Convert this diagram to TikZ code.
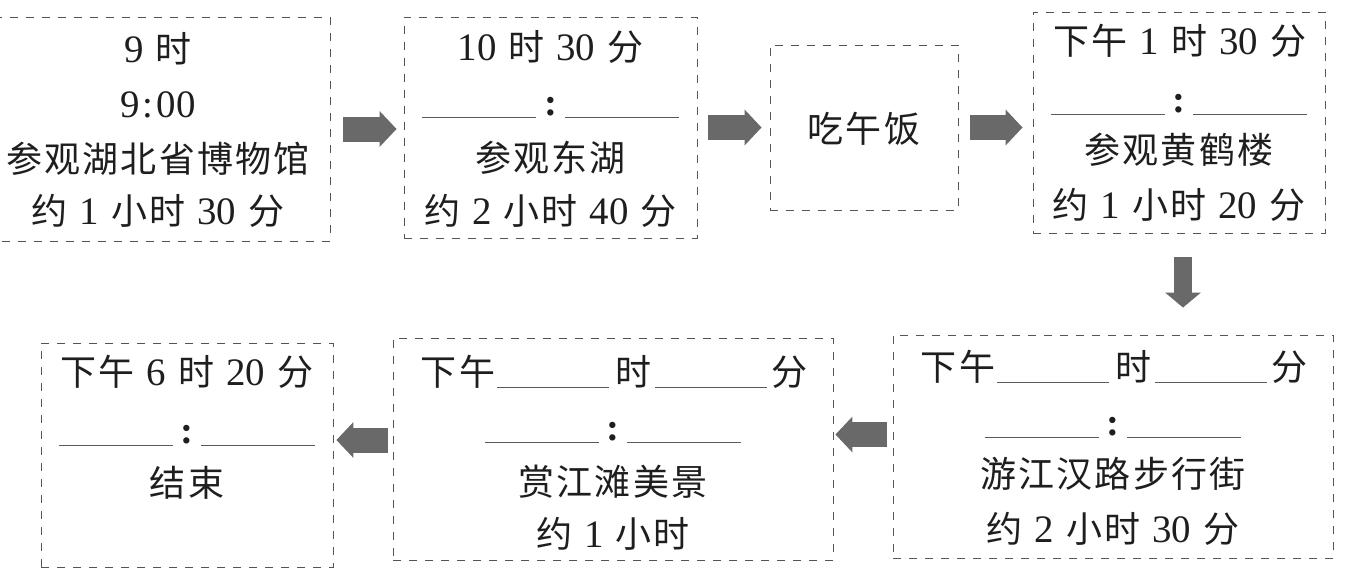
\documentclass[tikz,border=0pt]{standalone}
\usepackage{fontspec}
\setmainfont{Liberation Serif}[Scale=1.08]
\newfontfamily\cjk{Noto Sans CJK SC}[LetterSpace=6]
\usetikzlibrary{arrows.meta}
\definecolor{dashc}{RGB}{85,85,85}
\definecolor{arrowc}{RGB}{105,105,105}
\definecolor{ulc}{RGB}{90,90,90}
\definecolor{txtc}{RGB}{30,30,30}
\newcommand\zh[1]{{\cjk #1}}
\newcommand\gp{\hspace{12pt}}
\newcommand\blankline[1][114pt]{\textcolor{ulc}{\rule[-3pt]{#1}{0.9pt}}}
\newcommand\colonrow{\blankline\hspace{8pt}\textbf{:}\hspace{8pt}\blankline}
\newcommand\pmrow{\zh{下午}\hspace{2pt}\blankline[112pt]\hspace{6pt}\zh{时}\hspace{4pt}\blankline[112pt]\hspace{4pt}\zh{分}}
\begin{document}
\begin{tikzpicture}[x=1pt,y=-1pt,
 box/.style={draw=dashc, dash pattern=on 8pt off 8pt, line width=0.9pt, inner sep=0pt},
 txt/.style={anchor=base, inner sep=0pt, text=txtc, font=\fontsize{36pt}{40pt}\selectfont},
 fat/.style={draw=arrowc, line width=25pt, -{Triangle[length=17pt,width=35pt]}},
 fatdown/.style={draw=arrowc, line width=18pt, -{Triangle[length=15pt,width=35pt]}}]
\useasboundingbox (0,0) rectangle (1345,570);
% boxes
\node[box, minimum width=344pt, minimum height=224pt] (b1) at (158,129) {};
\node[box, minimum width=293pt, minimum height=221pt] (b2) at (550.5,127.5) {};
\node[box, minimum width=188pt, minimum height=165pt] (b3) at (864,127.5) {};
\node[box, minimum width=292pt, minimum height=221pt] (b4) at (1179,122.5) {};
\node[box, minimum width=440pt, minimum height=223pt] (b5) at (1113,446.5) {};
\node[box, minimum width=440pt, minimum height=222pt] (b6) at (613,449) {};
\node[box, minimum width=292pt, minimum height=224pt] (b7) at (187,455) {};
% box 1
\node[txt] (t1a) at (158,62) {9\gp\zh{时}};
\node[txt] (t1b) at (158,117) {9\kern3pt:\kern3pt00};
\node[txt] (t1c) at (158,172) {\zh{参观湖北省博物馆}};
\node[txt] (t1d) at (158,224) {\zh{约}\gp 1\gp\zh{小时}\gp 30\gp\zh{分}};
% box 2
\node[txt] (t2a) at (550.5,60) {10\gp\zh{时}\gp 30\gp\zh{分}};
\node[txt] (t2b) at (550.5,115) {\colonrow};
\node[txt] (t2c) at (550.5,171) {\zh{参观东湖}};
\node[txt] (t2d) at (550.5,224) {\zh{约}\gp 2\gp\zh{小时}\gp 40\gp\zh{分}};
% box 3
\node[txt] (t3) at (864,142) {\zh{吃午饭}};
% box 4
\node[txt] (t4a) at (1180,54) {\zh{下午}\gp 1\gp\zh{时}\gp 30\gp\zh{分}};
\node[txt] (t4b) at (1179,112) {\colonrow};
\node[txt] (t4c) at (1179,163) {\zh{参观黄鹤楼}};
\node[txt] (t4d) at (1179,218) {\zh{约}\gp 1\gp\zh{小时}\gp 20\gp\zh{分}};
% box 5
\node[txt] (t5a) at (1114,380) {\pmrow};
\node[txt] (t5b) at (1113,435) {\colonrow};
\node[txt] (t5c) at (1113,487) {\zh{游江汉路步行街}};
\node[txt] (t5d) at (1113,542) {\zh{约}\gp 2\gp\zh{小时}\gp 30\gp\zh{分}};
% box 6
\node[txt] (t6a) at (614,385) {\pmrow};
\node[txt] (t6b) at (613,440) {\colonrow};
\node[txt] (t6c) at (613,495) {\zh{赏江滩美景}};
\node[txt] (t6d) at (613,547) {\zh{约}\gp 1\gp\zh{小时}};
% box 7
\node[txt] (t7a) at (187,385) {\zh{下午}\gp 6\gp\zh{时}\gp 20\gp\zh{分}};
\node[txt] (t7b) at (187,443) {\colonrow};
\node[txt] (t7c) at (187,496) {\zh{结束}};
% arrows
\draw[fat] ([xshift=13pt]b1.east) -- ([xshift=-7pt]b2.west |- b1.east);
\draw[fat] ([xshift=11pt]b2.east) -- ([xshift=-8pt]b3.west |- b2.east);
\draw[fat] ([xshift=12pt]b3.east) -- ([xshift=-10pt]b4.west |- b3.east);
\coordinate (d1) at ([xshift=4pt]b4.south);
\draw[fatdown] ([yshift=-24pt]d1) -- ([yshift=27pt]d1 |- b5.north);
\coordinate (s5) at ([xshift=-6pt,yshift=12pt]b5.west);
\draw[fat] (s5) -- ([xshift=2pt]b6.east |- s5);
\coordinate (s6) at ([xshift=-5pt,yshift=9pt]b6.west);
\draw[fat] (s6) -- ([xshift=3pt]b7.east |- s6);
\end{tikzpicture}
\end{document}
